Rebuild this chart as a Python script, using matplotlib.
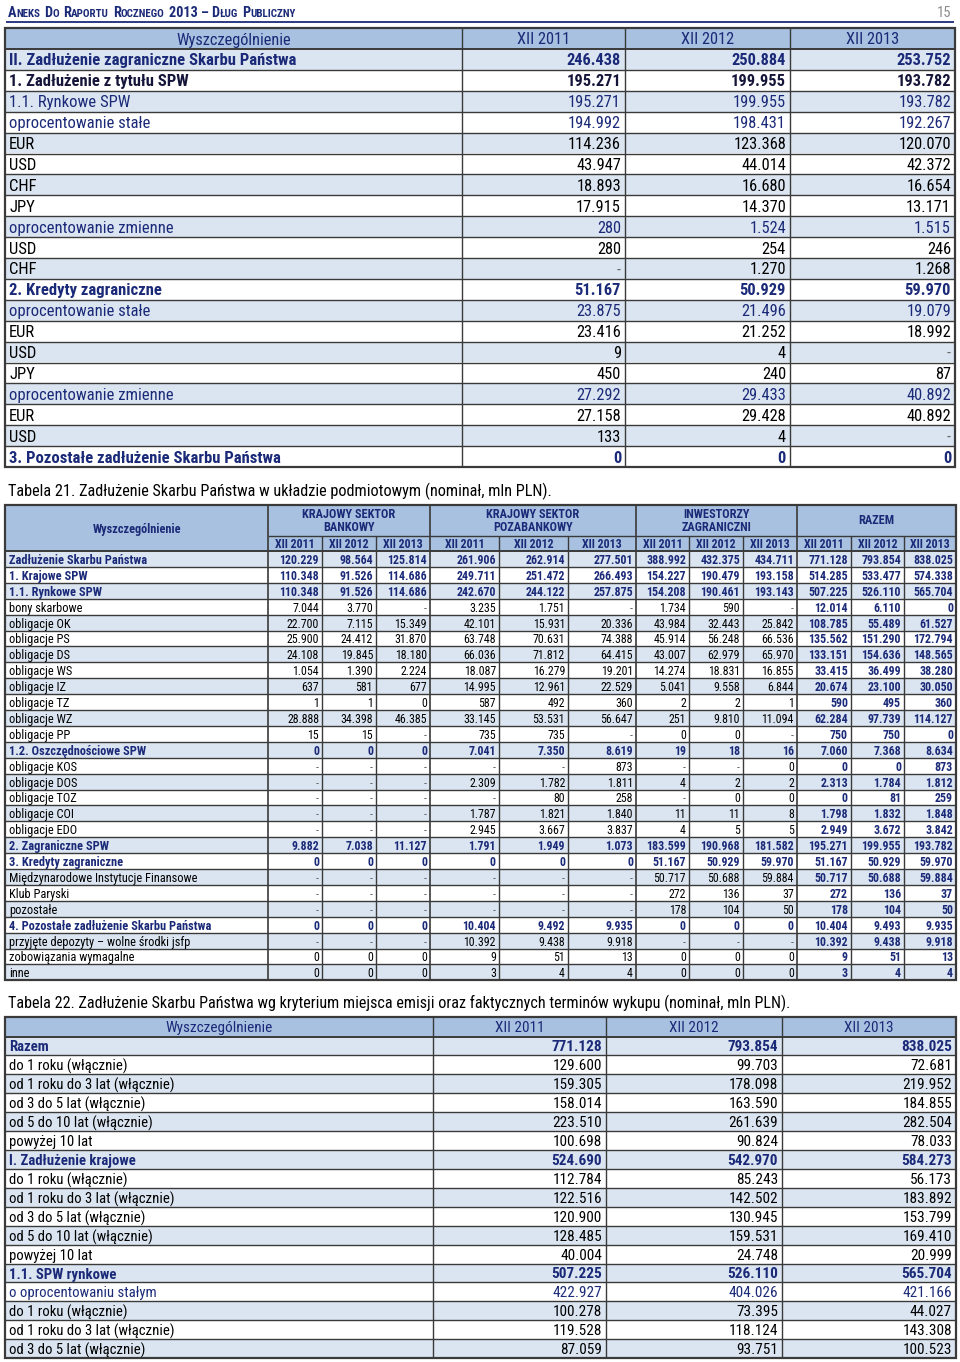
import matplotlib
matplotlib.use("Agg")
import matplotlib.pyplot as plt
from matplotlib import font_manager
from matplotlib.patches import Rectangle

# ---------------- data ----------------
# continuation of the foreign-debt table
t1_head = ["Wyszczególnienie", "XII 2011", "XII 2012", "XII 2013"]
t1_labels = [
    "II. Zadłużenie zagraniczne Skarbu Państwa", "1. Zadłużenie z tytułu SPW",
    "1.1. Rynkowe SPW", "oprocentowanie stałe", "EUR", "USD", "CHF", "JPY",
    "oprocentowanie zmienne", "USD", "CHF", "2. Kredyty zagraniczne",
    "oprocentowanie stałe", "EUR", "USD", "JPY", "oprocentowanie zmienne",
    "EUR", "USD", "3. Pozostałe zadłużenie Skarbu Państwa",
]
t1_xii2011 = ["246.438", "195.271", "195.271", "194.992", "114.236", "43.947", "18.893",
              "17.915", "280", "280", "-", "51.167", "23.875", "23.416", "9", "450",
              "27.292", "27.158", "133", "0"]
t1_xii2012 = ["250.884", "199.955", "199.955", "198.431", "123.368", "44.014", "16.680",
              "14.370", "1.524", "254", "1.270", "50.929", "21.496", "21.252", "4", "240",
              "29.433", "29.428", "4", "0"]
t1_xii2013 = ["253.752", "193.782", "193.782", "192.267", "120.070", "42.372", "16.654",
              "13.171", "1.515", "246", "1.268", "59.970", "19.079", "18.992", "-", "87",
              "40.892", "40.892", "-", "0"]

# Tabela 21
t21_caption = "Tabela 21. Zadłużenie Skarbu Państwa w układzie podmiotowym (nominał, mln PLN)."
t21_groups = ["KRAJOWY SEKTOR\nBANKOWY", "KRAJOWY SEKTOR\nPOZABANKOWY",
              "INWESTORZY\nZAGRANICZNI", "RAZEM"]
t21_years = ["XII 2011", "XII 2012", "XII 2013"]
t21_labels = [
    "Zadłużenie Skarbu Państwa", "1. Krajowe SPW", "1.1. Rynkowe SPW", "bony skarbowe",
    "obligacje OK", "obligacje PS", "obligacje DS", "obligacje WS", "obligacje IZ",
    "obligacje TZ", "obligacje WZ", "obligacje PP", "1.2. Oszczędnościowe SPW",
    "obligacje KOS", "obligacje DOS", "obligacje TOZ", "obligacje COI", "obligacje EDO",
    "2. Zagraniczne SPW", "3. Kredyty zagraniczne", "Międzynarodowe Instytucje Finansowe",
    "Klub Paryski", "pozostałe", "4. Pozostałe zadłużenie Skarbu Państwa",
    "przyjęte depozyty – wolne środki jsfp", "zobowiązania wymagalne", "inne",
]
t21_bank = [
    ("120.229", "98.564", "125.814"), ("110.348", "91.526", "114.686"),
    ("110.348", "91.526", "114.686"), ("7.044", "3.770", "-"), ("22.700", "7.115", "15.349"),
    ("25.900", "24.412", "31.870"), ("24.108", "19.845", "18.180"), ("1.054", "1.390", "2.224"),
    ("637", "581", "677"), ("1", "1", "0"), ("28.888", "34.398", "46.385"), ("15", "15", "-"),
    ("0", "0", "0"), ("-", "-", "-"), ("-", "-", "-"), ("-", "-", "-"), ("-", "-", "-"),
    ("-", "-", "-"), ("9.882", "7.038", "11.127"), ("0", "0", "0"), ("-", "-", "-"),
    ("-", "-", "-"), ("-", "-", "-"), ("0", "0", "0"), ("-", "-", "-"), ("0", "0", "0"),
    ("0", "0", "0"),
]
t21_nonbank = [
    ("261.906", "262.914", "277.501"), ("249.711", "251.472", "266.493"),
    ("242.670", "244.122", "257.875"), ("3.235", "1.751", "-"), ("42.101", "15.931", "20.336"),
    ("63.748", "70.631", "74.388"), ("66.036", "71.812", "64.415"), ("18.087", "16.279", "19.201"),
    ("14.995", "12.961", "22.529"), ("587", "492", "360"), ("33.145", "53.531", "56.647"),
    ("735", "735", "-"), ("7.041", "7.350", "8.619"), ("-", "-", "873"),
    ("2.309", "1.782", "1.811"), ("-", "80", "258"), ("1.787", "1.821", "1.840"),
    ("2.945", "3.667", "3.837"), ("1.791", "1.949", "1.073"), ("0", "0", "0"),
    ("-", "-", "-"), ("-", "-", "-"), ("-", "-", "-"), ("10.404", "9.492", "9.935"),
    ("10.392", "9.438", "9.918"), ("9", "51", "13"), ("3", "4", "4"),
]
t21_foreign = [
    ("388.992", "432.375", "434.711"), ("154.227", "190.479", "193.158"),
    ("154.208", "190.461", "193.143"), ("1.734", "590", "-"), ("43.984", "32.443", "25.842"),
    ("45.914", "56.248", "66.536"), ("43.007", "62.979", "65.970"), ("14.274", "18.831", "16.855"),
    ("5.041", "9.558", "6.844"), ("2", "2", "1"), ("251", "9.810", "11.094"), ("0", "0", "-"),
    ("19", "18", "16"), ("-", "-", "0"), ("4", "2", "2"), ("-", "0", "0"), ("11", "11", "8"),
    ("4", "5", "5"), ("183.599", "190.968", "181.582"), ("51.167", "50.929", "59.970"),
    ("50.717", "50.688", "59.884"), ("272", "136", "37"), ("178", "104", "50"),
    ("0", "0", "0"), ("-", "-", "-"), ("0", "0", "0"), ("0", "0", "0"),
]
t21_total = [
    ("771.128", "793.854", "838.025"), ("514.285", "533.477", "574.338"),
    ("507.225", "526.110", "565.704"), ("12.014", "6.110", "0"), ("108.785", "55.489", "61.527"),
    ("135.562", "151.290", "172.794"), ("133.151", "154.636", "148.565"),
    ("33.415", "36.499", "38.280"), ("20.674", "23.100", "30.050"), ("590", "495", "360"),
    ("62.284", "97.739", "114.127"), ("750", "750", "0"), ("7.060", "7.368", "8.634"),
    ("0", "0", "873"), ("2.313", "1.784", "1.812"), ("0", "81", "259"),
    ("1.798", "1.832", "1.848"), ("2.949", "3.672", "3.842"), ("195.271", "199.955", "193.782"),
    ("51.167", "50.929", "59.970"), ("50.717", "50.688", "59.884"), ("272", "136", "37"),
    ("178", "104", "50"), ("10.404", "9.493", "9.935"), ("10.392", "9.438", "9.918"),
    ("9", "51", "13"), ("3", "4", "4"),
]

# Tabela 22
t22_caption = ("Tabela 22. Zadłużenie Skarbu Państwa wg kryterium miejsca emisji oraz "
               "faktycznych terminów wykupu (nominał, mln PLN).")
t22_labels = [
    "Razem", "do 1 roku (włącznie)", "od 1 roku do 3 lat (włącznie)", "od 3 do 5 lat (włącznie)",
    "od 5 do 10 lat (włącznie)", "powyżej 10 lat", "I. Zadłużenie krajowe",
    "do 1 roku (włącznie)", "od 1 roku do 3 lat (włącznie)", "od 3 do 5 lat (włącznie)",
    "od 5 do 10 lat (włącznie)", "powyżej 10 lat", "1.1. SPW rynkowe",
    "o oprocentowaniu stałym", "do 1 roku (włącznie)", "od 1 roku do 3 lat (włącznie)",
    "od 3 do 5 lat (włącznie)",
]
t22_xii2011 = ["771.128", "129.600", "159.305", "158.014", "223.510", "100.698", "524.690",
               "112.784", "122.516", "120.900", "128.485", "40.004", "507.225", "422.927",
               "100.278", "119.528", "87.059"]
t22_xii2012 = ["793.854", "99.703", "178.098", "163.590", "261.639", "90.824", "542.970",
               "85.243", "142.502", "130.945", "159.531", "24.748", "526.110", "404.026",
               "73.395", "118.124", "93.751"]
t22_xii2013 = ["838.025", "72.681", "219.952", "184.855", "282.504", "78.033", "584.273",
               "56.173", "183.892", "153.799", "169.410", "20.999", "565.704", "421.166",
               "44.027", "143.308", "100.523"]

# ---------------- style ----------------
names = {f.name for f in font_manager.fontManager.ttflist}
NARROW = next((n for n in ["Liberation Sans Narrow", "Arial Narrow", "Roboto Condensed",
                           "PT Sans Narrow"] if n in names), "DejaVu Sans")
NAVY = "#1b2a78"
HEAD_BG = "#a9c1e0"
ROW_BG = "#dbe5f1"
LINE = "#3a3a3a"
DASH = "#6b6b6b"

fig = plt.figure(figsize=(9.6, 13.62), dpi=100)
ax = fig.add_axes([0, 0, 1, 1])
ax.set_xlim(0, 960)
ax.set_ylim(1362, 0)
ax.axis("off")


def put(x, y, s, size, ha="left", bold=False, color="black"):
    if s == "-":
        color = DASH
    ax.text(x, y, s, fontsize=size, ha=ha, va="center_baseline", family=NARROW,
            fontweight="bold" if bold else "normal", color=color)


def grid(xs, ys, lw=1.0):
    ax.hlines(ys, xs[0], xs[-1], colors=LINE, lw=lw)


def simple_table(top, head_h, row_h, xs, head, labels, cols, size, lsize, bold_rows,
                 navy_rows, dark_rows=()):
    ax.add_patch(Rectangle((xs[0], top), xs[-1] - xs[0], head_h, fc=HEAD_BG, ec="none"))
    for j, h in enumerate(head):
        put((xs[j] + xs[j + 1]) / 2, top + head_h / 2, h, size, ha="center", color=NAVY)
    y0 = top + head_h
    for i, lab in enumerate(labels):
        yc = y0 + (i + 0.5) * row_h
        if i % 2 == 0:
            ax.add_patch(Rectangle((xs[0], y0 + i * row_h), xs[-1] - xs[0], row_h,
                                   fc=ROW_BG, ec="none"))
        bold = i in bold_rows
        color = NAVY if (bold or i in navy_rows) else "black"
        if i in dark_rows:
            color = "#15153a"
        put(xs[0] + 4, yc, lab, lsize, bold=bold, color=color)
        for j, col in enumerate(cols):
            put(xs[j + 2] - 4, yc, col[i], size, ha="right", bold=bold, color=color)
    bottom = y0 + len(labels) * row_h
    grid(xs, [y0 + k * row_h for k in range(1, len(labels))], lw=1.0)
    grid(xs, [y0], lw=1.4)
    ax.vlines(xs[1:-1], top, bottom, colors=LINE, lw=1.0)
    ax.add_patch(Rectangle((xs[0], top), xs[-1] - xs[0], bottom - top, fc="none",
                           ec=LINE, lw=1.6))


# ---------------- page header ----------------
pieces = [("A", 1), ("NEKS", 0), (" ", 0), ("D", 1), ("O", 0), (" ", 0), ("R", 1),
          ("APORTU", 0), (" ", 0), ("R", 1), ("OCZNEGO", 0), (" ", 0), ("2013 – D", 1),
          ("ŁUG", 0), (" ", 0), ("P", 1), ("UBLICZNY", 0)]
renderer = fig.canvas.get_renderer()
x = 8
for s, big in pieces:
    if s == " ":
        x += 4
        continue
    t = ax.text(x, 17, s, fontsize=10.3 if big else 7.9, family=NARROW, fontweight="bold",
                color=NAVY, ha="left", va="baseline")
    x += t.get_window_extent(renderer).width
ax.text(951, 17, "15", fontsize=10.5, family=NARROW, color="#8c8c8c", ha="right",
        va="baseline")
ax.hlines(21.5, 6, 954, colors=NAVY, lw=1.3)

# ---------------- table 1 (continued) ----------------
simple_table(28, 21, 20.9, [5, 462, 625, 790, 955], t1_head, t1_labels,
             [t1_xii2011, t1_xii2012, t1_xii2013], 11.8, 12.0,
             bold_rows={0, 1, 11, 19}, navy_rows={2, 3, 8, 12, 16}, dark_rows={1})

# ---------------- table 21 ----------------
put(8, 489, t21_caption, 11.7)
xs21 = [5, 268, 322, 376, 430, 499, 568, 636, 689, 743, 797, 851, 904, 956]
top, mid, hdr, rh = 505, 535.5, 551, 15.9
groups_data = [t21_bank, t21_nonbank, t21_foreign, t21_total]
ax.add_patch(Rectangle((xs21[0], top), xs21[-1] - xs21[0], hdr - top, fc=HEAD_BG, ec="none"))
put((xs21[0] + xs21[1]) / 2, (top + hdr) / 2, "Wyszczególnienie", 8.8, ha="center",
    bold=True, color=NAVY)
for g, name in enumerate(t21_groups):
    gx0, gx1 = xs21[1 + 3 * g], xs21[4 + 3 * g]
    ax.text((gx0 + gx1) / 2, (top + mid) / 2 + 0.5, name, fontsize=8.8, family=NARROW,
            fontweight="bold", color=NAVY, ha="center", va="center", linespacing=1.0)
    for k, yr in enumerate(t21_years):
        put((xs21[1 + 3 * g + k] + xs21[2 + 3 * g + k]) / 2, (mid + hdr) / 2, yr, 8.6,
            ha="center", bold=True, color=NAVY)
bold21 = {0, 1, 2, 12, 18, 19, 23}
for i, lab in enumerate(t21_labels):
    yc = hdr + (i + 0.5) * rh
    if i % 2 == 0:
        ax.add_patch(Rectangle((xs21[0], hdr + i * rh), xs21[-1] - xs21[0], rh,
                               fc=ROW_BG, ec="none"))
    bold = i in bold21
    put(xs21[0] + 4, yc, lab, 8.9, bold=bold, color=NAVY if bold else "black")
    for g, data in enumerate(groups_data):
        for k in range(3):
            b = bold or g == 3
            put(xs21[2 + 3 * g + k] - 3, yc, data[i][k], 8.6, ha="right", bold=b,
                color=NAVY if b else "black")
bot21 = hdr + len(t21_labels) * rh
grid(xs21, [hdr + k * rh for k in range(1, len(t21_labels))], lw=1.0)
grid(xs21, [hdr], lw=1.4)
ax.hlines(mid, xs21[1], xs21[-1], colors=LINE, lw=1.0)
ax.vlines([xs21[1], xs21[4], xs21[7], xs21[10]], top, bot21, colors=LINE, lw=1.2)
inner = [x for i, x in enumerate(xs21[1:-1], start=1) if (i - 1) % 3 != 0]
ax.vlines(inner, mid, bot21, colors=LINE, lw=1.0)
ax.add_patch(Rectangle((xs21[0], top), xs21[-1] - xs21[0], bot21 - top, fc="none",
                       ec=LINE, lw=1.6))

# ---------------- table 22 ----------------
put(8, 1001, t22_caption, 11.6)
simple_table(1017, 19.5, 18.92, [5, 433, 606, 782, 956], t1_head, t22_labels,
             [t22_xii2011, t22_xii2012, t22_xii2013], 11, 10.6,
             bold_rows={0, 6, 12}, navy_rows={13})

fig.savefig("out.png", dpi=100)
